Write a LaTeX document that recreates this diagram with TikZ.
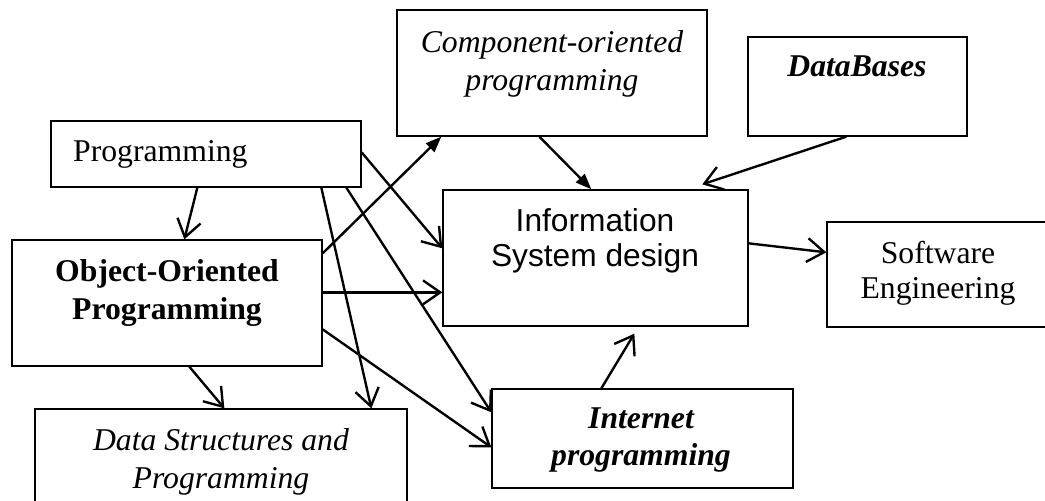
\documentclass[tikz,border=0pt,12pt]{standalone}
\usepackage{fontspec}
\setmainfont{Liberation Serif}
\setsansfont{Liberation Sans}
\usetikzlibrary{fit}
\usetikzlibrary{calc}
\usetikzlibrary{arrows.meta}

\begin{document}
\begin{tikzpicture}[
            x = 0.3786pt, y = -0.3786pt, % one unit = one pixel
            > = {Straight Barb[length=6.5pt, width=9pt]}, % open arrow head
            line width = 0.9pt, % arrow line
            font = \fontsize{12}{14.4}\selectfont
        ]

        \tikzstyle{box}=[draw, line width=0.5pt, inner sep=0pt]
        \tikzstyle{txt}=[inner sep=0pt, align=center, anchor=north]
        \tikzstyle{solid head}=[-{Triangle[length=6pt, width=4.5pt]}]

        \useasboundingbox (0,0) rectangle (1045,501);
        \clip (0,0) rectangle (1045,501);

	% boxes
        \node[box, fit={(51,121) (361,187)}] (prog) {};
        \node[box, fit={(12,240) (322,366)}] (oop) {};
        \node[box, fit={(35,409) (407,530)}] (dsp) {};
        \node[box, fit={(397,10) (707,136)}] (comp) {};
        \node[box, fit={(748,37) (967,136)}] (db) {};
        \node[box, fit={(443,190) (748,326)}] (isd) {};
        \node[box, fit={(827,222) (1050,327)}] (soft) {};
        \node[box, fit={(492,389) (793,488)}] (inet) {};

	% texts
        \node[txt, anchor=base west] (prog-t) at (72,162) {Programming};
        \node[txt, font=\fontsize{12}{14.4}\selectfont\bfseries] (oop-t) at (167,258) {Object-Oriented\\Programming};
        \node[txt, font=\fontsize{12}{14.4}\selectfont\itshape] (dsp-t) at (221,427) {Data Structures and\\Programming};
        \node[txt, font=\fontsize{12}{14.4}\selectfont\itshape] (comp-t) at (552,29) {Component-oriented\\programming};
        \node[txt, font=\fontsize{12}{14.4}\selectfont\bfseries\itshape, anchor=base] (db-t) at (857,77) {DataBases};
        \node[txt, font=\sffamily\fontsize{12}{13.3}\selectfont] (isd-t) at (595,207) {Information\\System design};
        \node[txt, font=\fontsize{12}{13.3}\selectfont] (soft-t) at (938,240) {Software\\Engineering};
        \node[txt, font=\fontsize{12}{14}\selectfont\bfseries\itshape] (inet-t) at (641,407) {Internet\\programming};

	% links from Programming
        \draw[->] ($(prog.south west)+(147,0)$) -- ($(oop.north west)+(173,0)$);
        \draw[->] ($(prog.north east)+(0,32)$) -- ($(isd.north west)+(0,59)$);
        \draw[->] ($(prog.south west)+(271,0)$) -- ($(dsp.north west)+(337,0)$);
        \draw[->] ($(prog.south west)+(296,0)$) -- ($(inet.north west)+(0,24)$);

	% links from Object-Oriented Programming
        \draw[solid head] ($(oop.north east)+(0,14)$) -- ($(comp.south west)+(45,0)$);
        \draw[->] ($(oop.north east)+(0,53)$) -- ($(isd.north west)+(0,103)$);
        \draw[->] ($(oop.north east)+(0,90)$) -- ($(inet.north west)+(0,59)$);
        \draw[->] ($(oop.south west)+(178,0)$) -- ($(dsp.north west)+(190,0)$);

	% links into Information System design
        \draw[solid head] ($(comp.south west)+(143,0)$) -- ($(isd.north west)+(149,0)$);
        \draw[->] ($(db.south west)+(99,0)$) -- ($(isd.north west)+(260,-5)$);
        \draw[->] ($(inet.north west)+(110,0)$) -- ($(isd.south west)+(192,7)$);
        \draw[->] ($(isd.north east)+(0,54)$) -- ($(soft.north west)+(0,31)$);

\end{tikzpicture}
\end{document}
